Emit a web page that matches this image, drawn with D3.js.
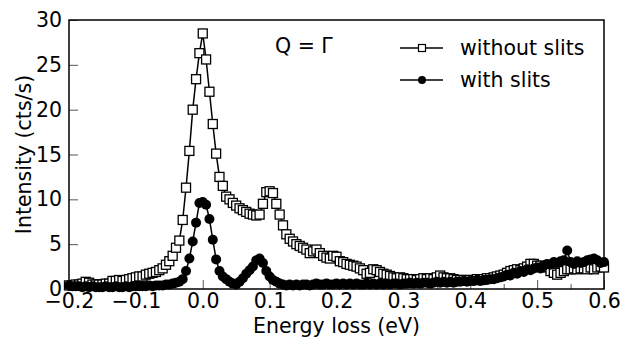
<!DOCTYPE html>
<html>
<head>
<meta charset="utf-8">
<script src="https://cdn.jsdelivr.net/npm/d3@7"></script>
<style>
  html, body { margin: 0; padding: 0; background: #fff; }
  svg { display: block; font-family: 'DejaVu Sans', sans-serif; }
</style>
</head>
<body>
<svg width="621" height="338"></svg>
<script>
// energy grid (eV)
var energy = [
  -0.2, -0.195, -0.19, -0.185, -0.18, -0.175, -0.17, -0.165, -0.16, -0.155,
  -0.15, -0.145, -0.14, -0.135, -0.13, -0.125, -0.12, -0.115, -0.11, -0.105,
  -0.1, -0.095, -0.09, -0.085, -0.08, -0.075, -0.07, -0.065, -0.06, -0.055,
  -0.05, -0.045, -0.04, -0.035, -0.03, -0.025, -0.02, -0.015, -0.01, -0.005,
  0, 0.005, 0.01, 0.015, 0.02, 0.025, 0.03, 0.035, 0.04, 0.045,
  0.05, 0.055, 0.06, 0.065, 0.07, 0.075, 0.08, 0.085, 0.09, 0.095,
  0.1, 0.105, 0.11, 0.115, 0.12, 0.125, 0.13, 0.135, 0.14, 0.145,
  0.15, 0.155, 0.16, 0.165, 0.17, 0.175, 0.18, 0.185, 0.19, 0.195,
  0.2, 0.205, 0.21, 0.215, 0.22, 0.225, 0.23, 0.235, 0.24, 0.245,
  0.25, 0.255, 0.26, 0.265, 0.27, 0.275, 0.28, 0.285, 0.29, 0.295,
  0.3, 0.305, 0.31, 0.315, 0.32, 0.325, 0.33, 0.335, 0.34, 0.345,
  0.35, 0.355, 0.36, 0.365, 0.37, 0.375, 0.38, 0.385, 0.39, 0.395,
  0.4, 0.405, 0.41, 0.415, 0.42, 0.425, 0.43, 0.435, 0.44, 0.445,
  0.45, 0.455, 0.46, 0.465, 0.47, 0.475, 0.48, 0.485, 0.49, 0.495,
  0.5, 0.505, 0.51, 0.515, 0.52, 0.525, 0.53, 0.535, 0.54, 0.545,
  0.55, 0.555, 0.56, 0.565, 0.57, 0.575, 0.58, 0.585, 0.59, 0.595,
  0.6
]

var withoutSlits = [
  0.4, 0.4, 0.5, 0.5, 0.6, 0.8, 0.7, 0.5, 0.5, 0.5,
  0.5, 0.6, 0.6, 0.9, 0.9, 1.0, 0.9, 1.0, 1.1, 1.2,
  1.3, 1.4, 1.4, 1.6, 1.7, 1.8, 1.9, 2.1, 2.3, 2.7,
  3.1, 3.7, 4.6, 5.4, 7.7, 11.3, 15.4, 20.0, 23.4, 26.3,
  28.5, 25.6, 22.0, 18.4, 15.1, 12.5, 11.5, 10.3, 10.0, 9.6,
  9.3, 9.0, 8.8, 8.6, 8.4, 8.3, 8.2, 8.3, 9.5, 10.8,
  10.9, 10.7, 9.5, 8.3, 7.1, 6.1, 5.6, 5.3, 5.0, 4.8,
  4.6, 4.4, 4.0, 4.2, 4.4, 4.0, 3.7, 3.5, 3.4, 3.7,
  3.6, 3.1, 3.0, 2.8, 2.7, 2.6, 2.5, 2.3, 2.1, 1.7,
  1.8, 2.2, 2.1, 1.9, 1.7, 1.6, 1.45, 1.3, 1.2, 1.3,
  1.2, 1.1, 1.1, 1.1, 1.0, 1.1, 1.2, 1.1, 1.2, 1.1,
  1.3, 1.5, 1.3, 1.2, 1.2, 1.1, 1.0, 1.0, 1.0, 1.0,
  1.0, 1.0, 1.1, 1.0, 1.1, 1.2, 1.2, 1.3, 1.4, 1.5,
  1.6, 1.8, 2.0, 2.1, 2.2, 2.1, 2.3, 2.5, 2.8, 2.8,
  2.6, 2.6, 2.4, 2.5, 2.0, 1.8, 1.6, 1.8, 2.0, 2.2,
  2.2, 2.3, 2.2, 2.3, 2.3, 2.2, 2.4, 2.2, 2.4, 2.5,
  2.4
]

var withSlits = [
  0.4, 0.3, 0.3, 0.3, 0.2, 0.3, 0.2, 0.3, 0.2, 0.2,
  0.2, 0.3, 0.2, 0.2, 0.3, 0.2, 0.2, 0.3, 0.2, 0.3,
  0.3, 0.3, 0.3, 0.3, 0.4, 0.3, 0.4, 0.4, 0.4, 0.5,
  0.5, 0.6, 0.7, 0.8, 1.1, 2.0, 3.4, 5.3, 7.4, 9.6,
  9.7, 9.4, 7.8, 5.5, 3.3, 2.0, 1.4, 1.1, 0.8, 0.6,
  0.5, 0.8, 1.2, 1.7, 2.1, 2.5, 3.2, 3.4, 2.9, 2.0,
  1.4, 1.0, 0.8, 0.6, 0.5, 0.4, 0.5, 0.4, 0.5, 0.4,
  0.5, 0.5, 0.4, 0.5, 0.6, 0.5, 0.5, 0.6, 0.5, 0.5,
  0.6, 0.5, 0.6, 0.5, 0.6, 0.5, 0.6, 0.5, 0.5, 0.6,
  0.5, 0.6, 0.5, 0.6, 0.5, 0.6, 0.5, 0.6, 0.6, 0.5,
  0.6, 0.6, 0.7, 0.6, 0.7, 0.6, 0.7, 0.7, 0.6, 0.7,
  0.8, 0.7, 0.8, 0.7, 0.8, 0.7, 0.8, 0.8, 0.9, 0.8,
  0.9, 0.9, 1.0, 0.9, 1.0, 1.0, 1.1, 1.1, 1.2, 1.3,
  1.4, 1.6, 1.5, 1.8, 1.7, 2.0, 1.9, 2.2, 2.1, 2.3,
  2.4, 2.3, 2.6, 2.8, 2.7, 3.0, 2.9, 3.1, 3.2, 4.3,
  3.0, 2.8, 3.1, 2.9, 3.0, 3.2, 3.3, 3.4, 3.2, 2.9,
  3.0
]

var xTicks = [-0.2, -0.1, 0.0, 0.1, 0.2, 0.3, 0.4, 0.5, 0.6]
var xMinorTicks = [-0.15, -0.05, 0.05, 0.15, 0.25, 0.35, 0.45, 0.55]
var yTicks = [0, 5, 10, 15, 20, 25, 30]

;(function () {
  var svg = d3.select('svg')
  var margin = {top: 20, right: 17, bottom: 49, left: 69}
  var width = 621 - margin.left - margin.right
  var height = 338 - margin.top - margin.bottom
  var fs = 20.5

  var g = svg.append('g')
    .attr('transform', 'translate(' + margin.left + ',' + margin.top + ')')

  var x = d3.scaleLinear().domain([-0.2, 0.6]).range([0, width])
  var y = d3.scaleLinear().domain([0, 30]).range([height, 0])

  var fmt = function (d) { return d3.format('.1f')(d).replace('-', '\u2212') }

  // x axis, ticks pointing inward
  var xAxis = g.append('g')
    .attr('transform', 'translate(0,' + height + ')')
    .call(d3.axisBottom(x).tickValues(xTicks).tickFormat(fmt).tickSizeInner(-9).tickSizeOuter(0).tickPadding(4))
  xAxis.select('.domain').remove()
  xAxis.selectAll('.tick line').attr('stroke', '#555')
  xAxis.selectAll('text').attr('font-size', fs).attr('font-family', 'DejaVu Sans').attr('fill', '#000')

  g.append('g')
    .attr('transform', 'translate(0,' + height + ')')
    .call(d3.axisBottom(x).tickValues(xMinorTicks).tickFormat('').tickSizeInner(-5).tickSizeOuter(0))
    .call(function (s) { s.select('.domain').remove(); s.selectAll('.tick line').attr('stroke', '#555') })

  var yAxis = g.append('g')
    .call(d3.axisLeft(y).tickValues(yTicks).tickFormat(d3.format('d')).tickSizeInner(-9).tickSizeOuter(0).tickPadding(7))
  yAxis.select('.domain').remove()
  yAxis.selectAll('.tick line').attr('stroke', '#555')
  yAxis.selectAll('text').attr('font-size', fs).attr('font-family', 'DejaVu Sans').attr('fill', '#000')

  // frame
  g.append('rect')
    .attr('width', width)
    .attr('height', height)
    .attr('fill', 'none')
    .attr('stroke', '#000')
    .attr('stroke-width', 1.5)

  var marks = g.append('g')

  var line = d3.line()
    .x(function (d) { return x(d[0]) })
    .y(function (d) { return y(d[1]) })

  var s1 = energy.map(function (e, i) { return [e, withoutSlits[i]] })
  var s2 = energy.map(function (e, i) { return [e, withSlits[i]] })

  marks.append('path')
    .attr('d', line(s1))
    .attr('fill', 'none')
    .attr('stroke', '#000')
    .attr('stroke-width', 1.5)

  marks.selectAll('rect.sq')
    .data(s1)
    .enter()
    .append('rect')
    .attr('class', 'sq')
    .attr('x', function (d) { return x(d[0]) - 4.5 })
    .attr('y', function (d) { return y(d[1]) - 4.5 })
    .attr('width', 9)
    .attr('height', 9)
    .attr('fill', '#fff')
    .attr('stroke', '#000')
    .attr('stroke-width', 1.3)

  marks.append('path')
    .attr('d', line(s2))
    .attr('fill', 'none')
    .attr('stroke', '#000')
    .attr('stroke-width', 1.5)

  marks.selectAll('circle')
    .data(s2)
    .enter()
    .append('circle')
    .attr('cx', function (d) { return x(d[0]) })
    .attr('cy', function (d) { return y(d[1]) })
    .attr('r', 5)
    .attr('fill', '#000')

  // annotation
  svg.append('text')
    .attr('x', 275)
    .attr('y', 53)
    .attr('font-size', fs)
    .text('Q = \u0393')

  // legend
  var legend = svg.append('g')
  var items = [
    {label: 'without slits', y: 48, kind: 'square'},
    {label: 'with slits', y: 80, kind: 'circle'}
  ]
  items.forEach(function (it) {
    legend.append('line')
      .attr('x1', 400).attr('x2', 443)
      .attr('y1', it.y).attr('y2', it.y)
      .attr('stroke', '#000').attr('stroke-width', 1.5)
    if (it.kind === 'square') {
      legend.append('rect')
        .attr('x', 418.5).attr('y', it.y - 3.5)
        .attr('width', 7).attr('height', 7)
        .attr('fill', '#fff').attr('stroke', '#000').attr('stroke-width', 1.2)
    } else {
      legend.append('circle')
        .attr('cx', 422).attr('cy', it.y).attr('r', 4).attr('fill', '#000')
    }
    legend.append('text')
      .attr('x', 460)
      .attr('y', it.y + 7)
      .attr('font-size', fs)
      .text(it.label)
  })

  // axis labels
  svg.append('text')
    .attr('x', margin.left + width / 2)
    .attr('y', 333)
    .attr('text-anchor', 'middle')
    .attr('font-size', fs)
    .text('Energy loss (eV)')

  svg.append('text')
    .attr('transform', 'translate(31,' + (margin.top + height / 2) + ') rotate(-90)')
    .attr('text-anchor', 'middle')
    .attr('font-size', fs)
    .text('Intensity (cts/s)')
})()
</script>
</body>
</html>
